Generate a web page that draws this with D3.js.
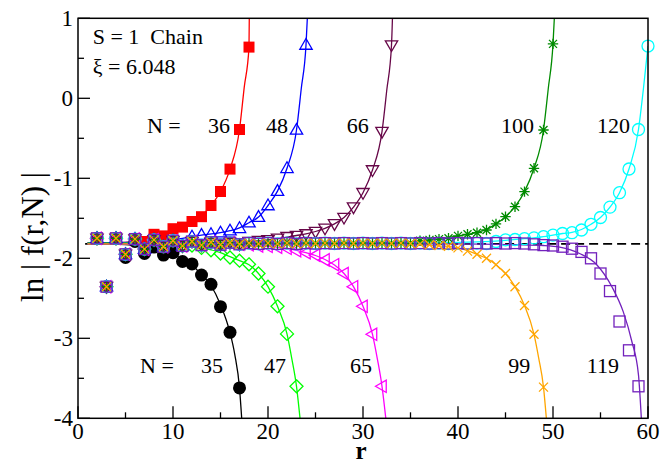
<!DOCTYPE html>
<html>
<head>
<meta charset="utf-8">
<script src="https://cdn.jsdelivr.net/npm/d3@7"></script>
<style>
  body { margin: 0; background: #fff; }
  svg text { font-family: "Liberation Serif", "Times New Roman", "DejaVu Serif", serif; fill: #000; }
</style>
</head>
<body>
<svg id="chart" width="660" height="461" font-family="Liberation Serif, Times New Roman, DejaVu Serif, serif"></svg>
<script>
// values; r runs 2,3,4,... for every set
var base = [-1.75, -2.355, -1.75, -1.95, -1.76, -1.885, -1.77, -1.855, -1.78, -1.845, -1.79, -1.835,
            -1.80, -1.83, -1.805, -1.825, -1.81, -1.82, -1.81, -1.82, -1.81, -1.82, -1.81, -1.815,
            -1.81, -1.815, -1.81, -1.815, -1.81, -1.815, -1.81, -1.815, -1.81, -1.815, -1.81, -1.815,
            -1.81, -1.815, -1.81, -1.815, -1.81, -1.815, -1.81, -1.815, -1.81, -1.815, -1.81];

// tail of each set, first value belongs to r = from
var tail35 = [-1.99, -1.79, -1.94, -1.86, -1.96, -1.93, -2.04, -2.07, -2.21, -2.325, -2.605, -2.925, -3.62];
var tail36 = [-1.79, -1.70, -1.72, -1.63, -1.61, -1.54, -1.48, -1.34, -1.165, -0.885, -0.39, 0.64];
var tail47 = [-1.84, -1.87, -1.90, -1.94, -1.99, -2.03, -2.075, -2.19, -2.355, -2.6, -2.945, -3.6];
var tail48 = [-1.73, -1.71, -1.70, -1.68, -1.655, -1.625, -1.555, -1.485, -1.34, -1.16, -0.875, -0.396, 0.666];
var tail65 = [-1.83, -1.845, -1.85, -1.86, -1.875, -1.905, -1.93, -1.96, -2.02, -2.08, -2.19, -2.355, -2.6, -2.95, -3.6];
var tail66 = [-1.79, -1.78, -1.77, -1.75, -1.73, -1.717, -1.696, -1.667, -1.625, -1.57, -1.49, -1.36, -1.18, -0.896, -0.417, 0.666];
var tail99 = [-1.82, -1.83, -1.84, -1.85, -1.87, -1.91, -1.95, -2.0, -2.08, -2.19, -2.355, -2.59, -2.95, -3.61];
var tail100 = [-1.78, -1.77, -1.76, -1.75, -1.72, -1.70, -1.68, -1.646, -1.57, -1.48, -1.355, -1.167, -0.875, -0.396, 0.68];
var tail119 = [-1.825, -1.835, -1.84, -1.855, -1.88, -1.92, -2.0, -2.19, -2.41, -2.79, -3.15, -3.6];
var tail120 = [-1.79, -1.77, -1.765, -1.755, -1.745, -1.73, -1.71, -1.69, -1.68, -1.646, -1.575, -1.49, -1.36, -1.18, -0.884, -0.39, 0.653];

// fitted curves, [r, ln|f|]
var fit35 = [[1,-1.82],[5,-1.83],[7,-1.86],[9,-1.91],[10,-1.95],[11,-2.01],[12,-2.09],[13,-2.2],[14,-2.34],[15,-2.58],[16,-2.93],[16.5,-3.2],[17,-3.62],[17.23,-4.0]];
var fit36 = [[1,-1.81],[5,-1.8],[7,-1.77],[9,-1.71],[10,-1.66],[11,-1.61],[12,-1.54],[13,-1.47],[14,-1.34],[15,-1.165],[16,-0.885],[17,-0.39],[17.5,0.14],[18,0.64],[18.03,1.0]];
var fit47 = [[1,-1.82],[8,-1.83],[11,-1.85],[13,-1.87],[15,-1.93],[16,-1.98],[17,-2.03],[18,-2.08],[19,-2.19],[20,-2.355],[21,-2.6],[22,-2.945],[22.5,-3.25],[23,-3.6],[23.37,-4.0]];
var fit48 = [[1,-1.81],[8,-1.79],[11,-1.75],[13,-1.71],[15,-1.68],[16,-1.655],[17,-1.62],[18,-1.555],[19,-1.485],[20,-1.34],[21,-1.16],[22,-0.875],[23,-0.396],[23.5,0.12],[24,0.666],[24.14,1.0]];
var fit65 = [[1,-1.82],[14,-1.825],[18,-1.835],[20,-1.85],[22,-1.875],[23,-1.9],[24,-1.93],[25,-1.965],[26,-2.015],[27,-2.085],[28,-2.19],[29,-2.355],[30,-2.6],[31,-2.95],[31.5,-3.25],[32,-3.6],[32.4,-4.0]];
var fit66 = [[1,-1.81],[14,-1.805],[18,-1.79],[20,-1.77],[22,-1.735],[23,-1.715],[24,-1.695],[25,-1.665],[26,-1.625],[27,-1.57],[28,-1.49],[29,-1.36],[30,-1.18],[31,-0.896],[32,-0.417],[32.5,0.1],[33,0.666],[33.1,1.0]];
var fit99 = [[1,-1.82],[30,-1.82],[35,-1.83],[38,-1.845],[40,-1.87],[41,-1.905],[42,-1.95],[43,-2.0],[44,-2.08],[45,-2.19],[46,-2.355],[47,-2.59],[48,-2.95],[48.5,-3.25],[49,-3.61],[49.3,-4.0]];
var fit100 = [[1,-1.81],[30,-1.81],[35,-1.795],[38,-1.76],[40,-1.72],[41,-1.7],[42,-1.675],[43,-1.64],[44,-1.57],[45,-1.48],[46,-1.355],[47,-1.167],[48,-0.875],[49,-0.396],[49.5,0.12],[50,0.68],[50.14,1.0]];
var fit119 = [[1,-1.82],[40,-1.82],[46,-1.83],[49,-1.84],[50.7,-1.86],[52.8,-1.94],[54.6,-2.08],[56.2,-2.355],[57.4,-2.67],[58.3,-3.04],[59,-3.46],[59.3,-4.0]];
var fit120 = [[1,-1.81],[38,-1.805],[42,-1.795],[45,-1.775],[47,-1.755],[49,-1.73],[50,-1.71],[51,-1.69],[52,-1.675],[53,-1.64],[54,-1.575],[55,-1.49],[56,-1.36],[57,-1.18],[58,-0.884],[59,-0.39],[59.5,0.1],[60,0.653]];

var asymptote = -1.82;
var xTicks = [0, 10, 20, 30, 40, 50, 60];
var yTicks = [-4, -3, -2, -1, 0, 1];

// sets in drawing order
var sets = [
  {N: 35,  from: 5,  tail: tail35,  fit: fit35,  color: "#000000", sym: "circleFill"},
  {N: 36,  from: 7,  tail: tail36,  fit: fit36,  color: "#ff0000", sym: "squareFill"},
  {N: 47,  from: 12, tail: tail47,  fit: fit47,  color: "#00ff00", sym: "diamond"},
  {N: 48,  from: 12, tail: tail48,  fit: fit48,  color: "#0000ff", sym: "triUp"},
  {N: 65,  from: 18, tail: tail65,  fit: fit65,  color: "#ff00ff", sym: "triLeft"},
  {N: 66,  from: 18, tail: tail66,  fit: fit66,  color: "#670748", sym: "triDown"},
  {N: 120, from: 44, tail: tail120, fit: fit120, color: "#00ffff", sym: "circle"},
  {N: 100, from: 36, tail: tail100, fit: fit100, color: "#008b00", sym: "star"},
  {N: 119, from: 48, tail: tail119, fit: fit119, color: "#7221bc", sym: "square"},
  {N: 99,  from: 36, tail: tail99,  fit: fit99,  color: "#ffa500", sym: "cross"}
];

var topLabels = [["N =", 7.26, "start"], ["36", 16.0, "end"], ["48", 22.1, "end"], ["66", 30.6, "end"], ["100", 48.0, "end"], ["120", 58.1, "end"]];
var bottomLabels = [["N =", 6.53, "start"], ["35", 15.26, "end"], ["47", 21.9, "end"], ["65", 30.95, "end"], ["99", 47.6, "end"], ["119", 56.95, "end"]];

var FONT = "'Liberation Serif', 'Times New Roman', 'DejaVu Serif', serif";

var svg = d3.select("#chart");
var margin = {left: 78, right: 12, top: 18.3, bottom: 42.7};
var width = 660 - margin.left - margin.right,
    height = 461 - margin.top - margin.bottom;

var x = d3.scaleLinear().domain([0, 60]).range([0, width]);
var y = d3.scaleLinear().domain([-4, 1]).range([height, 0]);

var g = svg.append("g").attr("transform", "translate(" + margin.left + "," + margin.top + ")");

g.append("clipPath").attr("id", "clip")
  .append("rect").attr("width", width).attr("height", height);

// ticks, inward
var ax = g.append("g").attr("stroke", "#000").attr("stroke-width", 1.3);
d3.range(0, 61, 5).forEach(function(t) {
  var len = t % 10 === 0 ? 12 : 6;
  ax.append("line").attr("x1", x(t)).attr("x2", x(t)).attr("y1", height).attr("y2", height - len);
});
d3.range(-4, 1.01, 0.5).forEach(function(t) {
  var len = Math.abs(t % 1) < 1e-9 ? 12 : 6;
  ax.append("line").attr("x1", 0).attr("x2", len).attr("y1", y(t)).attr("y2", y(t));
});

g.selectAll(".xl").data(xTicks).enter().append("text")
  .style("font-family", FONT)
  .attr("x", function(d) { return x(d); })
  .attr("y", height + 21)
  .attr("text-anchor", "middle")
  .attr("font-size", 23)
  .text(function(d) { return d; });

g.selectAll(".yl").data(yTicks).enter().append("text")
  .style("font-family", FONT)
  .attr("x", -5)
  .attr("y", function(d) { return y(d); })
  .attr("dy", "0.35em")
  .attr("text-anchor", "end")
  .attr("font-size", 23)
  .text(function(d) { return d; });

// dashed asymptote
g.append("line")
  .attr("x1", x(0.75)).attr("x2", x(60))
  .attr("y1", y(asymptote)).attr("y2", y(asymptote))
  .attr("stroke", "#000").attr("stroke-width", 1.8)
  .attr("stroke-dasharray", "9,5");

var line = d3.line()
  .curve(d3.curveMonotoneX)
  .x(function(d) { return x(d[0]); })
  .y(function(d) { return y(d[1]); });

function symbolPath(sym, s) {
  switch (sym) {
    case "diamond": return "M0," + (-s) + "L" + s + ",0L0," + s + "L" + (-s) + ",0Z";
    case "triUp": return "M0," + (-s) + "L" + (s * 0.95) + "," + (s * 0.65) + "L" + (-s * 0.95) + "," + (s * 0.65) + "Z";
    case "triDown": return "M0," + s + "L" + (s * 0.95) + "," + (-s * 0.65) + "L" + (-s * 0.95) + "," + (-s * 0.65) + "Z";
    case "triLeft": return "M" + (-s) + ",0L" + (s * 0.65) + "," + (-s * 0.95) + "L" + (s * 0.65) + "," + (s * 0.95) + "Z";
    case "cross": return "M" + (-s) + "," + (-s) + "L" + s + "," + s + "M" + (-s) + "," + s + "L" + s + "," + (-s);
    case "star": return "M" + (-s) + "," + (-s) + "L" + s + "," + s + "M" + (-s) + "," + s + "L" + s + "," + (-s) +
                        "M0," + (-s * 1.3) + "L0," + (s * 1.3) + "M" + (-s * 1.3) + ",0L" + (s * 1.3) + ",0";
  }
}

var plot = g.append("g").attr("clip-path", "url(#clip)");

sets.forEach(function(set) {
  var vals = base.slice(0, set.from - 2).concat(set.tail);
  var pts = vals.map(function(v, i) { return [i + 2, v]; });

  plot.append("path")
    .datum(set.fit)
    .attr("fill", "none")
    .attr("stroke", set.color)
    .attr("stroke-width", 1.3)
    .attr("d", line);

  var mk = g.append("g").selectAll("g").data(pts).enter().append("g")
    .attr("transform", function(d) { return "translate(" + x(d[0]) + "," + y(d[1]) + ")"; });

  if (set.sym === "circleFill") {
    mk.append("circle").attr("r", 6.5).attr("fill", set.color);
  } else if (set.sym === "circle") {
    mk.append("circle").attr("r", 6).attr("fill", "none").attr("stroke", set.color).attr("stroke-width", 1.3);
  } else if (set.sym === "squareFill") {
    mk.append("rect").attr("x", -5.5).attr("y", -5.5).attr("width", 11).attr("height", 11).attr("fill", set.color);
  } else if (set.sym === "square") {
    mk.append("rect").attr("x", -5.5).attr("y", -5.5).attr("width", 11).attr("height", 11)
      .attr("fill", "none").attr("stroke", set.color).attr("stroke-width", 1.3);
  } else {
    var s = set.sym === "cross" ? 4.5 : (set.sym === "star" ? 4 : 6.5);
    mk.append("path").attr("d", symbolPath(set.sym, s))
      .attr("fill", "none").attr("stroke", set.color).attr("stroke-width", 1.3);
  }
});

// frame
g.append("rect").attr("width", width).attr("height", height)
  .attr("fill", "none").attr("stroke", "#000").attr("stroke-width", 1.5);

// annotations
g.append("text").style("font-family", FONT)
  .attr("x", x(1.55)).attr("y", y(0.68)).attr("font-size", 22).text("S = 1\u00a0\u00a0Chain");
g.append("text").style("font-family", FONT)
  .attr("x", x(1.55)).attr("y", y(0.305)).attr("font-size", 22).text("\u03be = 6.048");

g.selectAll(".tl").data(topLabels).enter().append("text")
  .style("font-family", FONT)
  .attr("x", function(d) { return x(d[1]); })
  .attr("y", y(-0.434))
  .attr("text-anchor", function(d) { return d[2]; })
  .attr("font-size", 22)
  .text(function(d) { return d[0]; });

g.selectAll(".bl").data(bottomLabels).enter().append("text")
  .style("font-family", FONT)
  .attr("x", function(d) { return x(d[1]); })
  .attr("y", y(-3.43))
  .attr("text-anchor", function(d) { return d[2]; })
  .attr("font-size", 22)
  .text(function(d) { return d[0]; });

// axis titles
svg.append("text")
  .style("font-family", FONT)
  .attr("x", margin.left + x(30) - 2)
  .attr("y", 459)
  .attr("text-anchor", "middle")
  .attr("font-size", 25)
  .attr("font-weight", "bold")
  .text("r");

svg.append("text")
  .style("font-family", FONT)
  .attr("transform", "translate(43,237) rotate(-90)")
  .attr("text-anchor", "middle")
  .attr("font-size", 31)
  .text("ln\u00a0|\u00a0f(r,N)\u00a0|");
</script>
</body>
</html>
